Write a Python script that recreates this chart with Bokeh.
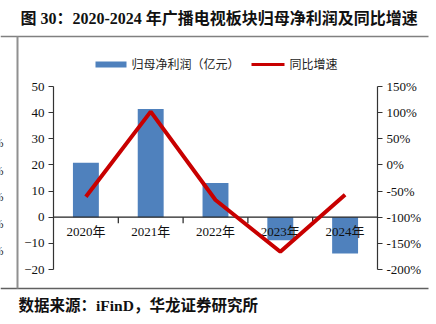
from bokeh.plotting import figure
from bokeh.models import (Range1d, LinearAxis, FixedTicker, PrintfTickFormatter,
                          Label, Arrow, ColumnDataSource)
from bokeh.core.properties import value
from bokeh.embed import file_html
from bokeh.resources import INLINE

# ---- data ----
years = ["2020年", "2021年", "2022年", "2023年", "2024年"]
net_profit = [20.8, 41.4, 13.1, -8.8, -13.9]        # 归母净利润（亿元）
growth_pct = [-61, 102, -67, -166, -57]             # 同比增速 (%)
left_ticks = [-20, -10, 0, 10, 20, 30, 40, 50]
right_ticks = [-200, -150, -100, -50, 0, 50, 100, 150]

title_text = "图 30：2020-2024 年广播电视板块归母净利润及同比增速"
source_text = "数据来源：iFinD，华龙证券研究所"
legend_bar = "归母净利润（亿元）"
legend_line = "同比增速"

# ---- layout (page pixels) ----
W, H = 436, 324
PL, PR, PT, PB = 53, 377, 86, 269   # plotting area edges
SERIF = "'Liberation Serif', 'Noto Sans CJK SC'"
BAR = "#4f81bd"
RED = "#c80000"

n = len(years)
L_MIN, L_MAX = min(left_ticks), max(left_ticks)
R_MIN, R_MAX = min(right_ticks), max(right_ticks)

# ranges chosen so the frame covers the whole page and the axis extents
# land on the plotting-area edges
cat_px = (PR - PL) / n
x0 = -0.5 - PL / cat_px
x1 = n - 0.5 + (W - PR) / cat_px
lu = (PB - PT) / (L_MAX - L_MIN)
ru = (PB - PT) / (R_MAX - R_MIN)
y_rng = Range1d(L_MIN - (H - PB) / lu, L_MAX + PT / lu)
r_rng = Range1d(R_MIN - (H - PB) / ru, R_MAX + PT / ru)

idx = list(range(n))
src = ColumnDataSource(dict(x=idx, top=net_profit, g=growth_pct, lab=years))

p = figure(width=W, height=H, output_backend="svg", toolbar_location=None,
           title=None, x_range=Range1d(x0, x1), y_range=y_rng,
           min_border=0, outline_line_color=None,
           x_axis_location=None, y_axis_location=None,
           background_fill_color="white", border_fill_color="white")
p.grid.visible = False
p.extra_y_ranges = {"pct": r_rng}

def style_axis(ax):
    ax.axis_line_color = "#333333"
    ax.axis_line_width = 1.2
    ax.major_tick_line_color = "#333333"
    ax.major_tick_line_width = 1.2
    ax.major_tick_in = 0
    ax.major_tick_out = 5
    ax.minor_tick_line_color = None
    ax.major_label_text_font = SERIF
    ax.major_label_text_font_size = "13px"
    ax.major_label_text_color = "#111111"
    ax.major_label_standoff = 4

la = LinearAxis(ticker=FixedTicker(ticks=left_ticks), fixed_location=-0.5,
                bounds=(L_MIN, L_MAX))
style_axis(la)
p.add_layout(la, "left")
ra = LinearAxis(y_range_name="pct", ticker=FixedTicker(ticks=right_ticks),
                formatter=PrintfTickFormatter(format="%d%%"),
                fixed_location=n - 0.5, bounds=(R_MIN, R_MAX))
style_axis(ra)
p.add_layout(ra, "right")

p.vbar(x="x", top="top", bottom=0, width=0.4, source=src, fill_color=BAR,
       line_color=None)

# zero line with category tick marks
p.segment(x0=-0.5, x1=n - 0.5, y0=0, y1=0, line_color="#222222", line_width=1.2)
p.segment(x0=[i + 0.5 for i in idx[:-1]], x1=[i + 0.5 for i in idx[:-1]],
          y0=0, y1=-6 / lu, line_color="#222222", line_width=1.2)
p.text(x="x", y=0, text="lab", source=src, text_font=value(SERIF),
       text_font_size="13px", text_align="center", text_baseline="top",
       y_offset=7, text_color="#111111")

p.line(x="x", y="g", source=src, y_range_name="pct", line_color=RED,
       line_width=4)

# screen units: origin at bottom-left of the frame (= page)
def sy(y):
    return H - y

def seg(xa, ya, xb, yb, color, width):
    p.add_layout(Arrow(end=None, start=None, x_start=xa, x_end=xb,
                       y_start=sy(ya), y_end=sy(yb), start_units="screen",
                       end_units="screen", line_color=color, line_width=width,
                       line_cap="butt"))

# page frame lines
seg(0, 36, 428, 36, "#808080", 1.5)
seg(0, 288, 428, 288, "#606060", 1.5)
seg(17, 36, 17, 288, "#909090", 2)

# legend
seg(95, 64, 126, 64, BAR, 6)
seg(251, 64, 284, 64, RED, 3)
p.add_layout(Label(x=131, y=sy(64), x_units="screen", y_units="screen",
                   text=legend_bar, text_font=SERIF, text_font_size="12px",
                   text_baseline="middle", text_color="#222222"))
p.add_layout(Label(x=289, y=sy(64), x_units="screen", y_units="screen",
                   text=legend_line, text_font=SERIF, text_font_size="12px",
                   text_baseline="middle", text_color="#222222"))

# title and source
p.add_layout(Label(x=20, y=sy(18), x_units="screen", y_units="screen",
                   text=title_text, text_font=SERIF, text_font_size="16px",
                   text_font_style="bold", text_baseline="middle",
                   text_color="#111111"))
p.add_layout(Label(x=18, y=sy(305), x_units="screen", y_units="screen",
                   text=source_text, text_font=SERIF, text_font_size="15.5px",
                   text_font_style="bold", text_baseline="middle",
                   text_color="#111111"))

# cut-off labels of the neighbouring chart at the left edge
for yy in [142.7, 170, 196.7, 223, 250]:
    p.add_layout(Label(x=3, y=sy(yy), x_units="screen", y_units="screen",
                       text="%", text_font=SERIF, text_font_size="12px",
                       text_align="right", text_baseline="middle",
                       text_color="#222222"))

open("out.html", "w").write(file_html(p, INLINE))
